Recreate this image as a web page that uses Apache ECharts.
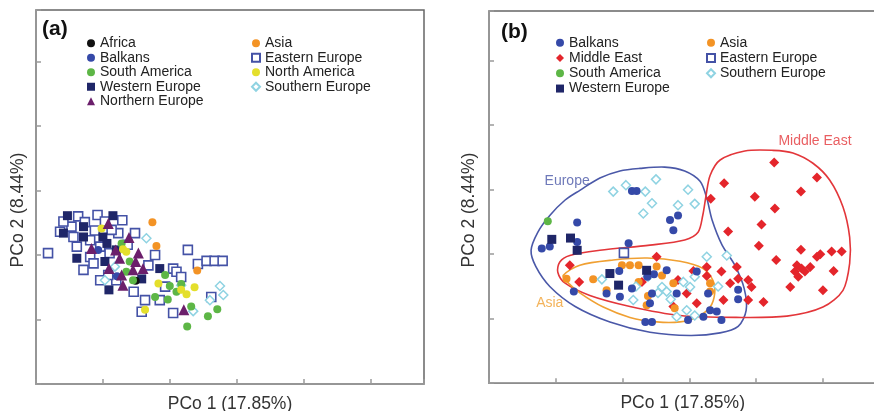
<!DOCTYPE html>
<html>
<head>
<meta charset="utf-8">
<script src="https://cdn.jsdelivr.net/npm/echarts@6/dist/echarts.min.js"></script>
<style>
  html, body { margin: 0; padding: 0; background: #fff; }
  #chart { width: 874px; height: 411px; }
</style>
</head>
<body>
<div id="chart"></div>
<script>
// ---------- Panel (a): PCo 1 / PCo 2 scores by region ----------
const aAfrica = [[1.49, 1.60]];
const aBalkans = [[0.93, 2.08], [1.21, 1.67]];
const aSouthAmerica = [[1.28, 2.18], [1.40, 1.90], [1.35, 1.74], [1.45, 1.61], [1.93, 1.69], [2.00, 1.52], [1.78, 1.35],
  [1.97, 1.31], [2.10, 1.43], [2.32, 1.20], [2.71, 1.16], [2.57, 1.05], [2.26, 0.89], [2.17, 1.55]];
const aWesternEurope = [[0.47, 2.61], [1.15, 2.61], [0.71, 2.44], [0.41, 2.34], [0.71, 2.28], [1.00, 2.28], [1.06, 2.18],
  [0.61, 1.95], [1.03, 1.90], [1.85, 1.79], [1.58, 1.63], [1.09, 1.46], [1.20, 2.08]];
const aNorthernEurope = [[1.08, 2.49], [1.39, 2.27], [0.83, 2.10], [1.19, 2.08], [1.53, 2.03], [1.25, 1.95], [1.49, 1.90],
  [1.09, 1.79], [1.45, 1.77], [1.60, 1.79], [1.28, 1.69], [1.30, 1.53], [2.21, 1.15]];
const aAsia = [[1.74, 2.51], [1.80, 2.14], [2.41, 1.76]];
const aEasternEurope = [[0.18, 2.03], [0.63, 2.60], [0.92, 2.62], [1.29, 2.54], [1.03, 2.52], [0.53, 2.44], [0.36, 2.36],
  [0.88, 2.38], [1.23, 2.34], [1.48, 2.34], [0.56, 2.28], [0.81, 2.23], [0.61, 2.13], [0.96, 2.13], [1.10, 2.03],
  [0.81, 1.97], [0.86, 1.87], [1.78, 2.00], [1.68, 1.84], [0.96, 1.61], [1.20, 1.61], [1.46, 1.43], [1.63, 1.30],
  [1.58, 1.12], [2.05, 1.79], [2.10, 1.74], [2.27, 2.08], [2.42, 1.86], [2.55, 1.91], [2.67, 1.91], [2.79, 1.91],
  [2.05, 1.10], [2.62, 1.35], [2.17, 1.66], [0.41, 2.52], [1.08, 1.69], [0.71, 1.77], [1.93, 1.51], [1.85, 1.30],
  [0.73, 2.51], [1.37, 2.16], [1.13, 2.39]];
const aNorthAmerica = [[0.98, 2.41], [1.30, 2.09], [1.35, 2.05], [1.83, 1.56], [1.63, 1.15], [2.25, 1.39], [2.37, 1.50], [2.17, 1.46]];
const aSouthernEurope = [[1.65, 2.26], [1.03, 1.61], [2.17, 1.53], [2.75, 1.52], [2.80, 1.38], [2.60, 1.30], [2.35, 1.13], [1.18, 1.82]];

// ---------- Panel (b): PCo 1 / PCo 2 scores by region ----------
const bBalkans = [[2.14, 2.98], [2.21, 2.98], [1.32, 2.49], [2.71, 2.53], [2.83, 2.60], [2.76, 2.37], [2.09, 2.17],
  [0.79, 2.09], [0.91, 2.12], [1.32, 2.19], [1.27, 1.42], [1.76, 1.39], [1.96, 1.34], [2.14, 1.47], [1.95, 1.74],
  [2.37, 1.65], [2.47, 1.69], [2.66, 1.75], [2.44, 1.39], [2.41, 1.24], [2.81, 1.39], [3.11, 1.73], [3.28, 1.39],
  [3.31, 1.13], [3.41, 1.11], [2.98, 0.98], [3.21, 1.03], [3.48, 0.98], [2.34, 0.95], [2.44, 0.95], [3.73, 1.45], [3.73, 1.30]];
const bMiddleEast = [[4.27, 3.42], [4.91, 3.19], [3.52, 3.10], [3.32, 2.86], [3.98, 2.89], [4.67, 2.97], [4.28, 2.71],
  [4.08, 2.46], [3.58, 2.35], [4.04, 2.13], [4.67, 2.07], [4.91, 1.96], [4.96, 2.00], [5.13, 2.04], [5.28, 2.04],
  [4.30, 1.91], [4.61, 1.83], [4.68, 1.78], [4.73, 1.73], [4.58, 1.73], [4.63, 1.65], [4.81, 1.80], [5.16, 1.74],
  [4.51, 1.49], [5.00, 1.44], [3.48, 1.73], [3.71, 1.80], [3.61, 1.55], [3.73, 1.62], [3.88, 1.60], [3.93, 1.49],
  [3.51, 1.29], [3.88, 1.29], [4.11, 1.26], [3.26, 1.80], [1.21, 1.83], [1.35, 1.57], [2.51, 1.96], [2.83, 1.60],
  [3.06, 1.74], [3.26, 1.66], [2.96, 1.39], [2.76, 1.19], [3.11, 1.24], [2.29, 1.57]];
const bSouthAmerica = [[0.88, 2.51]];
const bWesternEurope = [[0.94, 2.23], [1.22, 2.25], [1.32, 2.06], [1.81, 1.70], [1.94, 1.52], [2.36, 1.75]];
const bAsia = [[1.16, 1.62], [1.56, 1.61], [1.99, 1.83], [2.11, 1.83], [2.24, 1.83], [2.51, 1.81], [2.24, 1.57],
  [2.76, 1.55], [3.31, 1.55], [3.31, 1.42], [2.38, 1.35], [2.78, 1.16], [2.36, 1.21], [1.76, 1.44], [2.59, 1.67]];
const bEasternEurope = [[2.02, 2.02]];
const bSouthernEurope = [[1.86, 2.97], [2.05, 3.07], [2.34, 2.97], [2.50, 3.16], [2.31, 2.63], [2.44, 2.79], [2.83, 2.76],
  [2.98, 3.00], [3.08, 2.78], [3.26, 1.96], [3.56, 1.98], [1.69, 1.61], [2.16, 1.29], [2.38, 1.65], [2.59, 1.49],
  [2.66, 1.42], [2.53, 1.40], [2.91, 1.57], [3.01, 1.49], [3.43, 1.50], [2.96, 1.13], [3.08, 1.05], [2.81, 1.03],
  [3.08, 1.65], [2.20, 1.50], [2.72, 1.30]];

// Group outlines drawn in panel (b)
const europeOutline = [[0.63, 2.06], [0.73, 2.34], [0.91, 2.60], [1.14, 2.84], [1.36, 2.99], [1.66, 3.18], [1.96, 3.29],
  [2.26, 3.33], [2.63, 3.35], [2.93, 3.29], [3.16, 3.13], [3.26, 2.87], [3.34, 2.53], [3.49, 2.14], [3.68, 1.83],
  [3.82, 1.47], [3.85, 1.13], [3.73, 0.88], [3.46, 0.78], [3.01, 0.74], [2.41, 0.79], [1.81, 0.95], [1.29, 1.19],
  [0.91, 1.50], [0.70, 1.81]];
const middleEastOutline = [[4.25, 3.61], [4.55, 3.57], [4.85, 3.41], [5.10, 3.15], [5.30, 2.73], [5.40, 2.26], [5.40, 1.86],
  [5.30, 1.44], [5.00, 1.18], [4.46, 1.04], [3.70, 1.02], [2.86, 1.05], [2.11, 1.19], [1.51, 1.36], [1.14, 1.55],
  [1.03, 1.72], [1.06, 1.88], [1.21, 1.98], [1.66, 2.06], [2.41, 2.14], [2.93, 2.22], [3.13, 2.34], [3.20, 2.60],
  [3.25, 2.91], [3.31, 3.22], [3.46, 3.46], [3.83, 3.60]];
const asiaOutline = [[1.11, 1.67], [1.36, 1.83], [1.86, 1.91], [2.37, 1.94], [2.86, 1.89], [3.20, 1.78], [3.35, 1.60],
  [3.38, 1.40], [3.31, 1.18], [3.11, 1.02], [2.86, 0.95], [2.51, 0.95], [2.11, 1.02], [1.71, 1.18], [1.36, 1.40], [1.17, 1.57]];

// Outline captions and their anchor points
const outlineLabels = [
  { name: 'Europe', value: [1.17, 3.13] },
  { name: 'Asia', value: [0.91, 1.24] },
  { name: 'Middle East', value: [4.88, 3.75] }
];

const legendA1 = ['Africa', 'Balkans', 'South America', 'Western Europe', 'Northern Europe'];
const legendA2 = ['Asia', 'Eastern Europe', 'North America', 'Southern Europe'];
const legendB1 = ['Balkans', 'Middle East', 'South America', 'Western Europe'];
const legendB2 = ['Asia', 'Eastern Europe', 'Southern Europe'];

const FONT = '"Liberation Sans", Arial, Helvetica, sans-serif';

const regionStyle = {
  'Africa':          { symbol: 'circle',   size: 8,  item: { color: '#111111' } },
  'Balkans':         { symbol: 'circle',   size: 8,  item: { color: '#3549a8' } },
  'South America':   { symbol: 'circle',   size: 8,  item: { color: '#5db646' } },
  'Western Europe':  { symbol: 'rect',     size: 9,  item: { color: '#1f2668' } },
  'Northern Europe': { symbol: 'triangle', size: 11, item: { color: '#6b1f6b' } },
  'Asia':            { symbol: 'circle',   size: 8,  item: { color: '#f39325' } },
  'Eastern Europe':  { symbol: 'rect',     size: 9,  item: { color: '#ffffff', borderColor: '#4452a6', borderWidth: 1.6 } },
  'North America':   { symbol: 'circle',   size: 8,  item: { color: '#e4df2c' } },
  'Southern Europe': { symbol: 'diamond',  size: 9,  item: { color: '#ffffff', borderColor: '#8fd3e2', borderWidth: 1.5 } },
  'Middle East':     { symbol: 'diamond',  size: 10, item: { color: '#e4252b' } }
};

function points(name, data, gi) {
  const s = regionStyle[name];
  return {
    type: 'scatter', name: name, xAxisIndex: gi, yAxisIndex: gi,
    data: data, symbol: s.symbol, symbolSize: s.size,
    itemStyle: Object.assign({ opacity: 1 }, s.item),
    emphasis: { disabled: true }, z: 3
  };
}

function outline(name, pts, color) {
  return {
    type: 'custom', name: name, xAxisIndex: 1, yAxisIndex: 1, silent: true, z: 2,
    data: [pts[0]],
    renderItem: function (params, api) {
      return {
        type: 'polygon',
        shape: { points: pts.map(function (p) { return api.coord(p); }), smooth: 0.3 },
        style: { fill: 'none', stroke: color, lineWidth: 1.6 }
      };
    }
  };
}

const outlineColor = { 'Europe': '#4a58a8', 'Asia': '#f0a032', 'Middle East': '#e3363a' };

function axisX(gi, gap) {
  return {
    type: 'value', gridIndex: gi, min: 0, max: 5.8, interval: 1,
    axisLabel: { show: false }, splitLine: { show: false },
    axisLine: { onZero: false, lineStyle: { color: '#9a9a9a', width: 1.5 } },
    axisTick: { inside: true, length: 5, lineStyle: { color: '#9a9a9a', width: 1.5 } },
    name: 'PCo 1 (17.85%)', nameLocation: 'middle', nameGap: gap,
    nameTextStyle: { fontSize: 17.5, color: '#333', fontFamily: FONT }
  };
}
function axisY(gi, max, gap) {
  return {
    type: 'value', gridIndex: gi, min: 0, max: max, interval: 1,
    axisLabel: { show: false }, splitLine: { show: false },
    axisLine: { onZero: false, lineStyle: { color: '#9a9a9a', width: 1.5 } },
    axisTick: { inside: true, length: 5, lineStyle: { color: '#9a9a9a', width: 1.5 } },
    name: 'PCo 2 (8.44%)', nameLocation: 'middle', nameGap: gap,
    nameTextStyle: { fontSize: 17.5, color: '#333', fontFamily: FONT, padding: [0, 26, 0, 0] }
  };
}

function legendCol(names, left, top, lh) {
  return {
    data: names, orient: 'vertical', left: left, top: top, padding: 0,
    itemWidth: 8, itemHeight: 8, itemGap: 0, selectedMode: false,
    textStyle: { fontSize: 14, color: '#222', fontFamily: FONT, lineHeight: lh }
  };
}

const chart = echarts.init(document.getElementById('chart'), null, { renderer: 'canvas' });

const series = [
  points('Eastern Europe', aEasternEurope, 0),
  points('Western Europe', aWesternEurope, 0),
  points('Balkans', aBalkans, 0),
  points('Southern Europe', aSouthernEurope, 0),
  points('Africa', aAfrica, 0),
  points('South America', aSouthAmerica, 0),
  points('North America', aNorthAmerica, 0),
  points('Asia', aAsia, 0),
  points('Northern Europe', aNorthernEurope, 0),

  outline('Europe outline', europeOutline, outlineColor['Europe']),
  outline('Middle East outline', middleEastOutline, outlineColor['Middle East']),
  outline('Asia outline', asiaOutline, outlineColor['Asia']),

  points('Middle East', bMiddleEast, 1),
  points('Asia', bAsia, 1),
  points('Southern Europe', bSouthernEurope, 1),
  points('Balkans', bBalkans, 1),
  points('Western Europe', bWesternEurope, 1),
  points('Eastern Europe', bEasternEurope, 1),
  points('South America', bSouthAmerica, 1),
  {
    type: 'scatter', name: 'outline captions', xAxisIndex: 1, yAxisIndex: 1, silent: true,
    symbolSize: 0, z: 4,
    data: outlineLabels.map(function (d) {
      return { name: d.name, value: d.value, label: { color: outlineColor[d.name] } };
    }),
    label: { show: true, position: 'inside', formatter: '{b}', fontSize: 14, fontFamily: FONT }
  }
];

chart.setOption({
  animation: false,
  backgroundColor: '#ffffff',
  title: [
    { text: '(a)', left: 42, top: 19, padding: 0, textStyle: { fontSize: 21, fontWeight: 'bold', color: '#111', fontFamily: FONT } },
    { text: '(b)', left: 501, top: 22, padding: 0, textStyle: { fontSize: 21, fontWeight: 'bold', color: '#111', fontFamily: FONT } }
  ],
  legend: [
    legendCol(legendA1, 87, 36, 14.5),
    legendCol(legendA2, 251, 36, 14.5),
    legendCol(legendB1, 556, 35, 15.3),
    legendCol(legendB2, 706, 35, 15.3)
  ],
  grid: [
    { left: 36, top: 10, width: 388, height: 374, outerBoundsMode: 'none', containLabel: false,
      show: true, borderColor: '#666', borderWidth: 1.5, backgroundColor: '#fff' },
    { left: 489, top: 11, width: 387.4, height: 372.2, outerBoundsMode: 'none', containLabel: false,
      show: true, borderColor: '#666', borderWidth: 1.5, backgroundColor: '#fff' }
  ],
  xAxis: [axisX(0, 11), axisX(1, 11)],
  yAxis: [axisY(0, 5.8, 9), axisY(1, 5.77, 11)],
  series: series
});
</script>
</body>
</html>
